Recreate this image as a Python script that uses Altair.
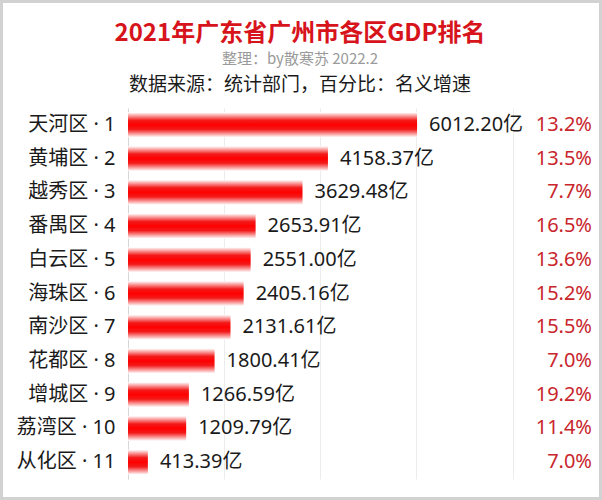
import altair as alt
import pandas as pd

districts = ["天河区", "黄埔区", "越秀区", "番禺区", "白云区", "海珠区", "南沙区", "花都区", "增城区", "荔湾区", "从化区"]
ranks = [1, 2, 3, 4, 5, 6, 7, 8, 9, 10, 11]
gdp = [6012.20, 4158.37, 3629.48, 2653.91, 2551.00, 2405.16, 2131.61, 1800.41, 1266.59, 1209.79, 413.39]
growth = ["13.2%", "13.5%", "7.7%", "16.5%", "13.6%", "15.2%", "15.5%", "7.0%", "19.2%", "11.4%", "7.0%"]

title_text = "2021年广东省广州市各区GDP排名"
sub1 = "整理：by散寒苏 2022.2"
sub2 = "数据来源：统计部门，百分比：名义增速"

df = pd.DataFrame({
    "label": [f"{d} · {r}" for d, r in zip(districts, ranks)],
    "gdp": gdp,
    "vlabel": [f"{v:.2f}亿" for v in gdp],
    "growth": growth,
})

W, H = 464, 371
FONT = "Noto Sans CJK SC"
MIX = "Noto Sans, Noto Sans CJK SC"
order = list(df["label"])

y_enc = alt.Y("label:N", sort=order, title=None,
              axis=alt.Axis(labelFontSize=20, labelColor="#1a1a1a", labelFont=MIX,
                            ticks=False, labelPadding=13, domainColor="#d6d6d6",
                            domainWidth=1, grid=False, labelLimit=200))
x_scale = alt.Scale(domain=[0, 9650], nice=False)

grad = alt.LinearGradient(
    gradient="linear", x1=0, x2=0, y1=0, y2=1,
    stops=[alt.GradientStop(color="#ffffff", offset=0),
           alt.GradientStop(color="#f31a1a", offset=0.32),
           alt.GradientStop(color="#ff0000", offset=0.5),
           alt.GradientStop(color="#f31a1a", offset=0.68),
           alt.GradientStop(color="#ffffff", offset=1)])

base = alt.Chart(df)

bars = base.mark_bar(color=grad, size=25).encode(
    x=alt.X("gdp:Q", scale=x_scale, title=None,
            axis=alt.Axis(values=[0, 2000, 4000, 6000, 8000], labels=False, ticks=False,
                          domain=False, grid=True, gridColor="#ececec", gridWidth=1)),
    y=y_enc,
)

vals = base.mark_text(align="left", baseline="middle", dx=12, fontSize=20,
                      font=MIX, color="#1a1a1a").encode(
    x=alt.X("gdp:Q", scale=x_scale), y=alt.Y("label:N", sort=order), text="vlabel:N")

pct = base.mark_text(align="right", baseline="middle", fontSize=20,
                     font=MIX, color="#c8262c").encode(
    x=alt.value(W), y=alt.Y("label:N", sort=order), text="growth:N")

h1 = alt.Chart(pd.DataFrame({"t": [title_text]})).mark_text(
    align="center", baseline="alphabetic", fontSize=24, fontWeight="bold",
    font=FONT, color="#d7141b").encode(x=alt.value(172), y=alt.value(-67), text="t:N")
h2 = alt.Chart(pd.DataFrame({"t": [sub1]})).mark_text(
    align="center", baseline="alphabetic", fontSize=15,
    font=FONT, color="#9a9a9a").encode(x=alt.value(172), y=alt.value(-44), text="t:N")
h3 = alt.Chart(pd.DataFrame({"t": [sub2]})).mark_text(
    align="center", baseline="alphabetic", fontSize=19,
    font=FONT, color="#1a1a1a").encode(x=alt.value(172), y=alt.value(-17), text="t:N")

frame = alt.Chart(pd.DataFrame({"a": [0]})).mark_rect(
    fill=None, stroke="#d2d2d2", strokeWidth=3, clip=False).encode(
    x=alt.value(-126.5), x2=alt.value(W + 8.5), y=alt.value(-106.5), y2=alt.value(H + 19.5))

chart = alt.layer(bars, vals, pct, h1, h2, h3, frame).properties(
    width=W, height=H,
    autosize=alt.AutoSizeParams(type="none"),
    padding={"left": 128, "top": 108, "right": 10, "bottom": 21},
    background="#ffffff",
).configure_view(stroke=None)

chart.save("out.html", embed_options={"renderer": "svg", "actions": False})
